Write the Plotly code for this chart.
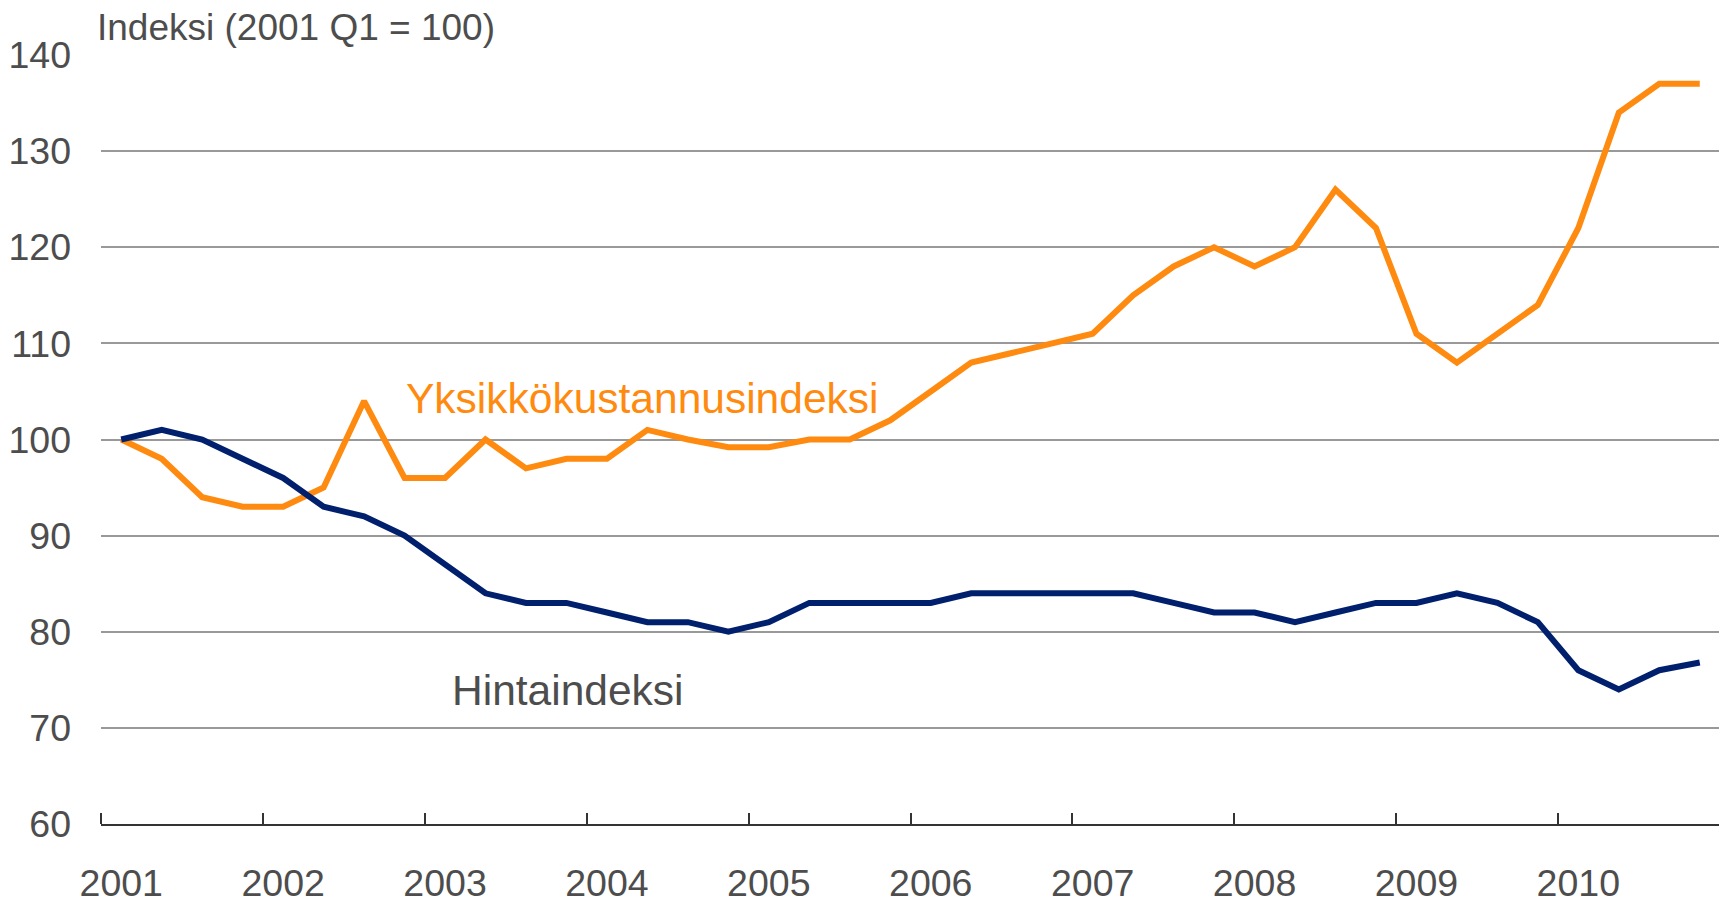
import plotly.graph_objects as go

years = ["2001", "2002", "2003", "2004", "2005", "2006", "2007", "2008", "2009", "2010"]
quarters_per_year = 4

unit_cost_index = [100, 98, 94, 93, 93, 95, 104, 96, 96, 100,
                   97, 98, 98, 101, 100, 99.2, 99.2, 100, 100, 102,
                   105, 108, 109, 110, 111, 115, 118, 120, 118, 120,
                   126, 122, 111, 108, 111, 114, 122, 134, 137, 137]
price_index = [100, 101, 100, 98, 96, 93, 92, 90, 87, 84,
               83, 83, 82, 81, 81, 80, 81, 83, 83, 83,
               83, 84, 84, 84, 84, 84, 83, 82, 82, 81,
               82, 83, 83, 84, 83, 81, 76, 74, 76, 76.8]

y_ticks = [60, 70, 80, 90, 100, 110, 120, 130, 140]
y_title = "Indeksi (2001 Q1 = 100)"
label_unit = "Yksikkökustannusindeksi"
label_price = "Hintaindeksi"

ORANGE = "#FF8A10"
NAVY = "#00206E"
TXT = "#4D4D4D"
FONT = "Arial, Liberation Sans, sans-serif"

n = len(unit_cost_index)
x = list(range(n))

fig = go.Figure()
fig.add_trace(go.Scatter(x=x, y=unit_cost_index, mode="lines",
                         line=dict(color=ORANGE, width=6), hoverinfo="skip"))
fig.add_trace(go.Scatter(x=x, y=price_index, mode="lines",
                         line=dict(color=NAVY, width=6), hoverinfo="skip"))

fig.update_layout(
    width=1727, height=902,
    margin=dict(l=93, r=15, t=47, b=86),
    paper_bgcolor="white", plot_bgcolor="white",
    showlegend=False,
    font=dict(family=FONT, size=37, color=TXT),
    xaxis=dict(
        range=[-0.5, n - 0.5],
        automargin=False,
        tickmode="array",
        tickvals=[i * quarters_per_year for i in range(len(years))],
        ticktext=years,
        ticks="",
        showgrid=False, zeroline=False,
        showline=True, linecolor="#333333", linewidth=2,
        tickfont=dict(family=FONT, size=37.5, color=TXT),
        ticklabelstandoff=25,
        minor=dict(tickmode="linear", tick0=-0.5, dtick=quarters_per_year,
                   ticks="inside", ticklen=11, tickwidth=2, tickcolor="#333333",
                   showgrid=False),
    ),
    yaxis=dict(
        range=[60, 140],
        automargin=False,
        tickmode="array", tickvals=y_ticks,
        ticks="",
        showgrid=True, gridcolor="#999999", gridwidth=1.5,
        zeroline=False, showline=False,
        tickfont=dict(family=FONT, size=37.5, color=TXT),
        ticklabelstandoff=29,
    ),
    annotations=[
        dict(text=y_title, xref="paper", yref="paper", x=-0.0036, y=1.036,
             xanchor="left", yanchor="middle", showarrow=False,
             font=dict(family=FONT, size=37, color=TXT)),
        dict(text=label_unit, xref="x", yref="y", x=6.99, y=104.3,
             xanchor="left", yanchor="middle", showarrow=False,
             font=dict(family=FONT, size=42.5, color=ORANGE)),
        dict(text=label_price, xref="x", yref="y", x=8.13, y=73.9,
             xanchor="left", yanchor="middle", showarrow=False,
             font=dict(family=FONT, size=42.5, color=TXT)),
    ],
)

fig.write_html("out.html", config={"displayModeBar": False})
